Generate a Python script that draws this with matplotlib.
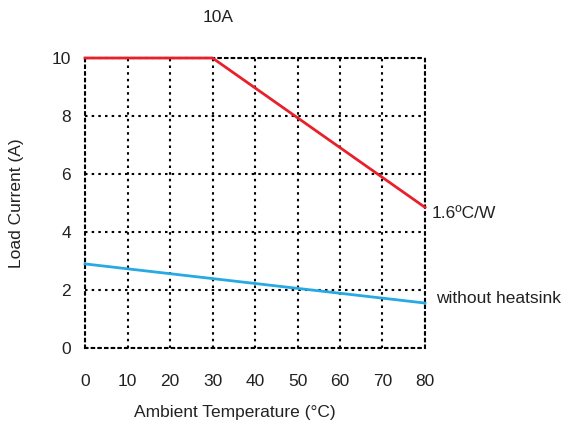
import matplotlib.pyplot as plt

plt.rcParams['font.family'] = ['Liberation Sans', 'DejaVu Sans']

# Derating curves
temp_hs = [0, 30, 80]
current_hs = [10.0, 10.0, 4.85]

temp_nohs = [0, 80]
current_nohs = [2.9, 1.55]

x_ticks = [0, 10, 20, 30, 40, 50, 60, 70, 80]
y_ticks = [0, 2, 4, 6, 8, 10]

fs = 12.5
txt = '#222222'

fig = plt.figure(figsize=(5.71, 4.30), dpi=100)
ax = fig.add_axes([0.1489, 0.1907, 0.5954, 0.6744])

ax.plot(temp_hs, current_hs, color='#e8202a', lw=2, zorder=3, clip_on=False)
ax.plot(temp_nohs, current_nohs, color='#27a9e1', lw=2, zorder=3, clip_on=False)

ax.set_xlim(0, 80)
ax.set_ylim(0, 10)
ax.set_xticks(x_ticks)
ax.set_yticks(y_ticks)
ax.tick_params(length=0, labelsize=fs, colors=txt)
ax.tick_params(axis='x', pad=19)
ax.tick_params(axis='y', pad=10)
ax.grid(True, color='black', linestyle=(0, (1.2, 2.0)), lw=1.5)
for s in ax.spines.values():
    s.set_linestyle((0, (1.2, 2.0)))
    s.set_linewidth(1.5)

ax.set_xlabel('Ambient Temperature (°C)', fontsize=fs, color=txt)
ax.xaxis.set_label_coords(0.441, -0.195)
ax.set_ylabel('Load Current (A)', fontsize=fs, color=txt, labelpad=20)

fig.text(218 / 571, 1 - 18 / 430, '10A', fontsize=fs, color=txt, ha='center', va='center')
ax.text(81.5, 4.65, '1.6ºC/W', fontsize=fs, color=txt, va='center')
ax.text(82.5, 1.7, 'without heatsink', fontsize=fs, color=txt, va='center')

fig.savefig('out.png', dpi=100)
